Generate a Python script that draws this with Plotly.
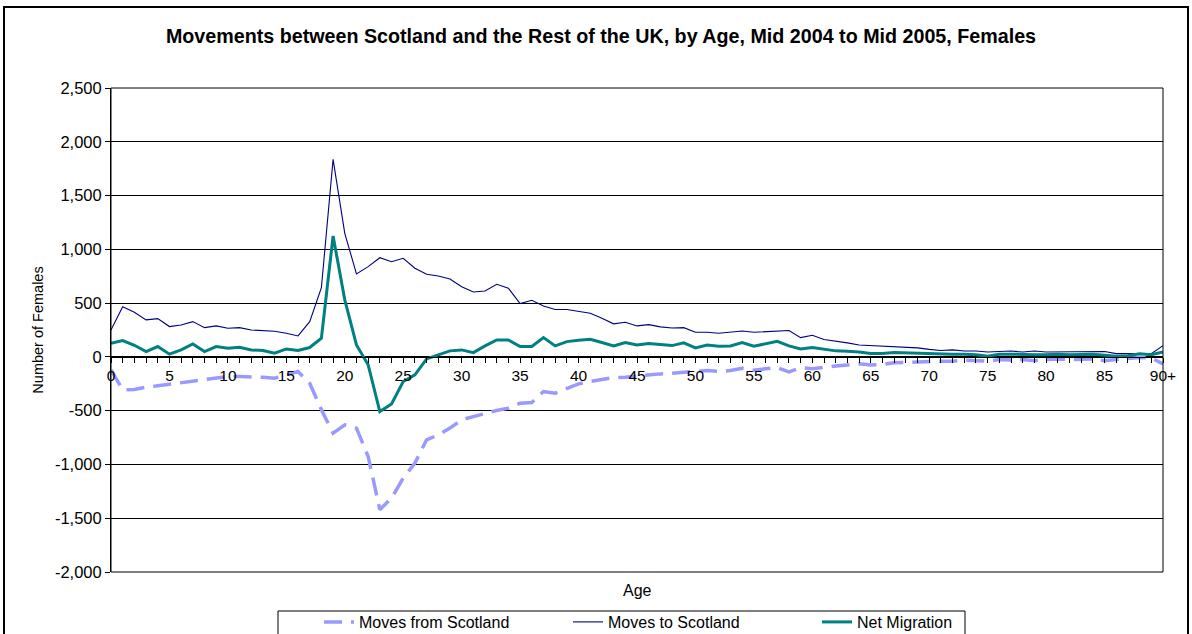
import plotly.graph_objects as go

# ---- data ----
ages = [str(a) for a in range(90)] + ["90+"]
age_positions = list(range(91))
labelled_ages = ["0", "5", "10", "15", "20", "25", "30", "35", "40", "45",
                 "50", "55", "60", "65", "70", "75", "80", "85", "90+"]

y_tick_values = [-2000, -1500, -1000, -500, 0, 500, 1000, 1500, 2000, 2500]
y_tick_labels = ["-2,000", "-1,500", "-1,000", "-500", "0", "500",
                 "1,000", "1,500", "2,000", "2,500"]

moves_to_scotland = [250, 467, 415, 344, 356, 282, 297, 328, 272, 288,
                     266, 272, 250, 245, 238, 220, 195, 328, 644, 1836,
                     1149, 771, 839, 922, 885, 917, 824, 768, 752, 724,
                     653, 604, 613, 675, 638, 495, 526, 474, 440, 440,
                     421, 406, 359, 307, 322, 288, 300, 279, 269, 272,
                     229, 229, 220, 229, 241, 229, 235, 245, 245, 179,
                     201, 161, 142, 130, 111, 105, 99, 96, 87, 84,
                     70, 60, 65, 55, 55, 45, 50, 55, 45, 55,
                     45, 45, 45, 45, 45, 50, 30, 30, 35, 30,
                     105]

moves_from_scotland = [-121, -307, -304, -282, -269, -254, -245, -223, -214, -201,
                       -183, -183, -183, -189, -198, -167, -136, -245, -492, -709,
                       -632, -662, -926, -1421, -1313, -1127, -988, -771, -725, -662,
                       -585, -555, -523, -499, -477, -430, -424, -322, -338, -291,
                       -251, -229, -214, -192, -189, -177, -167, -158, -152, -143,
                       -136, -127, -136, -127, -105, -125, -110, -100, -140, -100,
                       -110, -95, -85, -75, -65, -75, -70, -55, -50, -50,
                       -45, -40, -40, -30, -35, -40, -25, -30, -25, -35,
                       -25, -20, -25, -25, -20, -35, -25, -20, -5, -10,
                       -65]

net_migration = [127, 152, 108, 50, 96, 25, 65, 121, 50, 96,
                 80, 90, 65, 59, 34, 74, 59, 87, 173, 1124,
                 530, 111, -74, -508, -437, -229, -167, -19, 19, 56,
                 65, 40, 102, 158, 158, 96, 96, 180, 102, 142,
                 155, 164, 134, 102, 134, 111, 124, 115, 105, 130,
                 84, 111, 99, 102, 134, 99, 124, 145, 102, 74,
                 87, 68, 56, 53, 46, 31, 31, 40, 37, 34,
                 31, 22, 25, 25, 20, 5, 25, 25, 20, 20,
                 20, 25, 20, 20, 25, 15, 5, 10, 30, 20,
                 45]

y_min, y_max = -2000, 2500

# ---- layout geometry (page pixels; body margin removed by post_script) ----
W, H = 1192, 634
PLOT_LEFT, PLOT_RIGHT, PLOT_TOP, PLOT_BOTTOM = 111, 1163, 88, 572
L, T = PLOT_LEFT, PLOT_TOP
R, B = W - PLOT_RIGHT, H - PLOT_BOTTOM
pw, ph = PLOT_RIGHT - PLOT_LEFT, PLOT_BOTTOM - PLOT_TOP


def px_x(x):
    return (x - PLOT_LEFT) / pw


def px_y(y):
    return (PLOT_BOTTOM - y) / ph


FONT = "Liberation Sans, Arial, sans-serif"

fig = go.Figure()
fig.add_trace(go.Scatter(
    x=age_positions, y=moves_from_scotland, name="Moves from Scotland",
    mode="lines", line=dict(color="#9999FF", width=3.5, dash="18px,9px")))
fig.add_trace(go.Scatter(
    x=age_positions, y=moves_to_scotland, name="Moves to Scotland",
    mode="lines", line=dict(color="#000080", width=1.1)))
fig.add_trace(go.Scatter(
    x=age_positions, y=net_migration, name="Net Migration",
    mode="lines", line=dict(color="#008080", width=3)))

ticktext = [a if a in labelled_ages else "" for a in ages]

fig.update_layout(
    width=W, height=H,
    margin=dict(l=L, r=R, t=T, b=B, autoexpand=False),
    paper_bgcolor="white", plot_bgcolor="white",
    font=dict(family=FONT, size=15, color="black"),
    title=dict(text="<b>Movements between Scotland and the Rest of the UK, by Age, Mid 2004 to Mid 2005, Females</b>",
               x=601 / W, xanchor="center", y=1 - 36 / H, yanchor="middle",
               font=dict(family=FONT, size=19.7, color="black")),
    xaxis=dict(range=[0, 90], anchor="free", position=(0 - y_min) / (y_max - y_min),
               tickmode="array", tickvals=age_positions, ticktext=ticktext,
               ticks="outside", ticklen=5, tickcolor="black", tickwidth=1,
               showline=True, linecolor="black", linewidth=1,
               showgrid=False, zeroline=False, tickangle=0,
               tickfont=dict(family=FONT, size=15.5, color="black")),
    yaxis=dict(range=[y_min, y_max], tickmode="array",
               tickvals=y_tick_values, ticktext=y_tick_labels,
               ticks="outside", ticklen=5, tickcolor="black",
               showline=True, linecolor="black", linewidth=1,
               showgrid=True, gridcolor="black", gridwidth=1,
               zeroline=False,
               tickfont=dict(family=FONT, size=16.5, color="black"),
               title=dict(text="Number of Females", standoff=7,
                          font=dict(family=FONT, size=14.5, color="black"))),
    showlegend=True,
    legend=dict(orientation="h", x=px_x(319), xanchor="left",
                y=px_y(605), yanchor="top",
                entrywidth=204, entrywidthmode="pixels",
                bgcolor="rgba(0,0,0,0)", borderwidth=0,
                font=dict(family=FONT, size=16, color="black"),
                itemwidth=30, tracegroupgap=0),
    shapes=[
        # plot area frame
        dict(type="rect", xref="paper", yref="paper", x0=0, x1=1, y0=0, y1=1,
             line=dict(color="black", width=1), fillcolor="rgba(0,0,0,0)", layer="above"),
        # legend box
        dict(type="rect", xref="paper", yref="paper",
             x0=px_x(278), x1=px_x(965), y0=px_y(650), y1=px_y(611),
             line=dict(color="black", width=1), fillcolor="rgba(0,0,0,0)"),
        # outer chart border
        dict(type="rect", xref="paper", yref="paper",
             x0=px_x(4), x1=px_x(1188), y0=px_y(650), y1=px_y(7),
             line=dict(color="black", width=2), fillcolor="rgba(0,0,0,0)"),
    ],
    annotations=[
        dict(text="Age", xref="paper", yref="paper", x=px_x(637), y=px_y(590),
             xanchor="center", yanchor="middle", showarrow=False,
             font=dict(family=FONT, size=16, color="black")),
    ],
)

fig.write_html("out.html",
               config={"displayModeBar": False},
               post_script="document.body.style.margin='0px';"
                           "document.body.style.overflow='hidden';")
